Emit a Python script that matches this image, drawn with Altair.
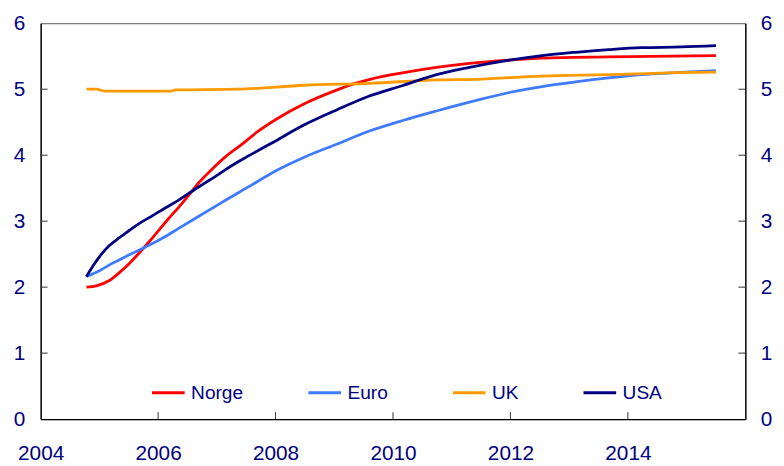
import altair as alt
import pandas as pd

series = ["Norge", "Euro", "UK", "USA"]
colors = ["#FF0000", "#3F7BFF", "#FF9A00", "#000080"]

norge_year = [2004.78, 2004.95, 2005.17, 2005.34, 2005.51, 2005.67, 2005.84, 2006.01, 2006.18,
              2006.35, 2006.52, 2006.69, 2006.91, 2007.14, 2007.42, 2007.70, 2008.04, 2008.49,
              2009.05, 2009.33, 2009.61, 2010.18, 2010.74, 2011.30, 2011.98, 2012.54, 2013.67,
              2015.50]
norge_value = [2.00, 2.02, 2.10, 2.22, 2.36, 2.51, 2.68, 2.86, 3.04,
               3.21, 3.39, 3.58, 3.78, 3.97, 4.16, 4.36, 4.56, 4.78,
               4.99, 5.08, 5.15, 5.25, 5.33, 5.39, 5.44, 5.47, 5.49,
               5.51]

euro_year = [2004.78, 2005.00, 2005.22, 2005.51, 2005.79, 2006.07, 2006.35, 2006.63, 2006.91,
             2007.19, 2007.50, 2008.04, 2008.49, 2009.05, 2009.61, 2010.18, 2010.74, 2011.42,
             2011.98, 2012.54, 2013.11, 2013.67, 2014.23, 2014.79, 2015.50]
euro_value = [2.16, 2.25, 2.36, 2.49, 2.61, 2.74, 2.89, 3.04, 3.19,
              3.34, 3.50, 3.78, 3.97, 4.17, 4.37, 4.53, 4.67, 4.83,
              4.95, 5.04, 5.11, 5.17, 5.22, 5.25, 5.28]

uk_year = [2004.78, 2004.95, 2005.10, 2006.21, 2006.30, 2007.36, 2008.49, 2009.61, 2010.74,
           2011.42, 2012.54, 2013.67, 2014.79, 2015.50]
uk_value = [5.00, 5.00, 4.97, 4.97, 4.99, 5.00, 5.06, 5.09, 5.14,
            5.15, 5.20, 5.22, 5.25, 5.26]

usa_year = [2004.78, 2004.89, 2005.00, 2005.17, 2005.34, 2005.51, 2005.67, 2005.90, 2006.12,
            2006.35, 2006.57, 2006.80, 2007.03, 2007.25, 2007.50, 2007.93, 2008.49, 2009.05,
            2009.61, 2010.18, 2010.74, 2011.30, 2011.98, 2012.54, 2013.11, 2013.67, 2014.23,
            2014.91, 2015.50]
usa_value = [2.16, 2.32, 2.46, 2.63, 2.75, 2.86, 2.96, 3.08, 3.20,
             3.32, 3.45, 3.58, 3.71, 3.84, 3.97, 4.18, 4.46, 4.69,
             4.90, 5.06, 5.22, 5.33, 5.44, 5.51, 5.56, 5.60, 5.63,
             5.64, 5.66]

x_labels = [2004, 2006, 2008, 2010, 2012, 2014]
y_labels = [0, 1, 2, 3, 4, 5, 6]
x_inner_ticks = [2006, 2008, 2010, 2012, 2014]
y_inner_ticks = [1, 2, 3, 4, 5]

rows = []
for name, yrs, vals in [("Norge", norge_year, norge_value), ("Euro", euro_year, euro_value),
                        ("UK", uk_year, uk_value), ("USA", usa_year, usa_value)]:
    for yr, v in zip(yrs, vals):
        rows.append({"serie": name, "year": yr, "value": v})
df = pd.DataFrame(rows)

W, H = 712, 400
FONT = "Liberation Sans"
LABEL = "#000080"
xscale = alt.Scale(domain=[2004, 2016], nice=False, zero=False)
yscale = alt.Scale(domain=[0, 6], nice=False, zero=False)

common_axis = dict(title=None, ticks=False, tickSize=0, grid=False, domainColor="black",
                   domainWidth=1.3, labelFontSize=21, labelColor=LABEL, labelFont=FONT,
                   labelFlush=False, labelOverlap=False)

lines = alt.Chart(df).mark_line(strokeWidth=2.8, interpolate="monotone").encode(
    x=alt.X("year:Q", scale=xscale,
            axis=alt.Axis(values=x_labels, format="d", labelPadding=24, **common_axis)),
    y=alt.Y("value:Q", scale=yscale,
            axis=alt.Axis(values=y_labels, orient="left", labelPadding=16, **common_axis)),
    color=alt.Color("serie:N", scale=alt.Scale(domain=series, range=colors),
                    legend=alt.Legend(orient="none", legendX=111, legendY=355,
                                      direction="horizontal", title=None, symbolType="stroke",
                                      symbolSize=1089, symbolStrokeWidth=3, labelFontSize=19.3,
                                      labelColor=LABEL, labelFont=FONT, columnPadding=59,
                                      labelOffset=5, padding=0)),
    detail="serie:N",
)

ytick_df = pd.DataFrame({"v": y_inner_ticks})
xtick_df = pd.DataFrame({"t": x_inner_ticks})

left_ticks = alt.Chart(ytick_df).mark_rule(color="#333333", strokeWidth=1).encode(
    y=alt.Y("v:Q", scale=yscale, axis=None), x=alt.value(0), x2=alt.value(7))

right_ticks = alt.Chart(ytick_df).mark_rule(color="#333333", strokeWidth=1).encode(
    y=alt.Y("v:Q", scale=yscale,
            axis=alt.Axis(values=y_labels, orient="right", labelPadding=15, **common_axis)),
    x=alt.value(W - 7), x2=alt.value(W))

bottom_ticks = alt.Chart(xtick_df).mark_rule(color="#333333", strokeWidth=1).encode(
    x=alt.X("t:Q", scale=xscale, axis=None), y=alt.value(H - 7), y2=alt.value(H))

chart = alt.layer(lines, left_ticks, right_ticks, bottom_ticks).resolve_axis(
    x="independent", y="independent"
).properties(
    width=W, height=H,
    padding={"left": 33, "top": 13, "right": 31, "bottom": 45},
    autosize=alt.AutoSizeParams(type="none"),
    background="white",
).configure_view(stroke="#555555", strokeWidth=1)

chart.save("out.html", embed_options={"renderer": "svg", "actions": False})
